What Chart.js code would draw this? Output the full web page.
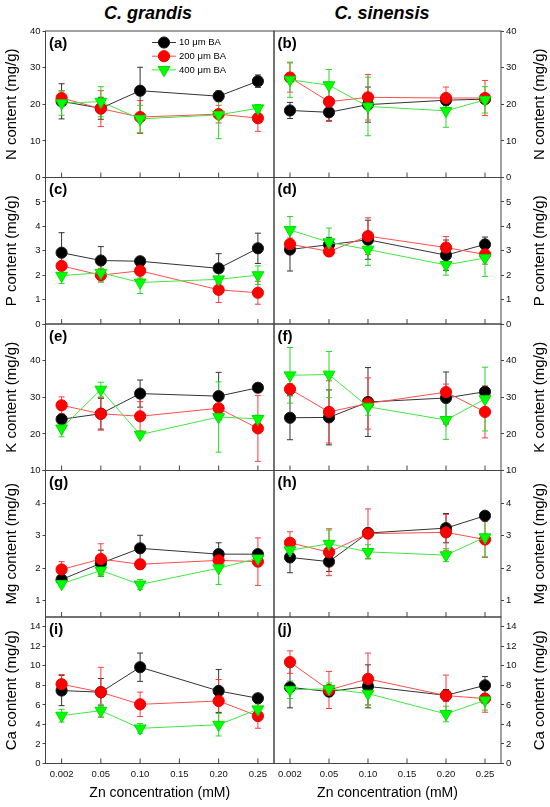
<!DOCTYPE html>
<html>
<head>
<meta charset="utf-8">
<title>N, P, K, Mg, Ca content vs Zn concentration</title>
<script src="https://cdn.jsdelivr.net/npm/chart.js@4.4.1/dist/chart.umd.min.js"></script>
<style>
  html, body { margin: 0; padding: 0; background: #fff; }
  #wrap { position: relative; width: 550px; height: 807px; overflow: hidden; }
  #wrap canvas { position: absolute; left: 0; top: 0; }
  .col-title { position: absolute; top: 3px; line-height: 21px; font: italic bold 18px 'Liberation Sans', Arial, sans-serif; color: #000; transform: translateX(-50%); white-space: nowrap; }
</style>
</head>
<body>
<div id="wrap">
  <div class="col-title" style="left:148px">C. grandis</div>
  <div class="col-title" style="left:382px">C. sinensis</div>
</div>
<script>
// ===== Data =====
const znLabels = ['0.002', '0.05', '0.10', '0.15', '0.20', '0.25'];
const znMeasured = ['0.002', '0.05', '0.10', '0.20', '0.25'];
const seriesNames = ['10 μm BA', '200 μm BA', '400 μm BA'];

// each: [10 µM, 200 µM, 400 µM] rows, one value per Zn level
const nGrandisMeans = [[20.8, 18.9, 23.7, 22.2, 26.3], [21.7, 18.8, 16.5, 17.3, 16.2], [20.3, 20.7, 16.0, 17.1, 18.9]];
const nGrandisErrors = [[4.8, 3.0, 6.4, 1.5, 1.7], [2.0, 4.9, 4.5, 2.4, 3.6], [3.3, 4.1, 3.7, 6.5, 1.0]];
const nSinensisMeans = [[18.3, 17.8, 19.9, 21.1, 21.4], [27.3, 20.7, 21.9, 21.7, 21.7], [26.7, 25.2, 19.4, 18.2, 21.2]];
const nSinensisErrors = [[2.2, 2.3, 4.8, 1.5, 1.0], [4.0, 5.4, 6.2, 3.0, 4.8], [4.8, 4.3, 8.0, 4.5, 3.6]];

const pGrandisMeans = [[2.92, 2.6, 2.57, 2.28, 3.1], [2.38, 2.0, 2.18, 1.4, 1.28], [1.98, 2.1, 1.7, 1.83, 2.0]];
const pGrandisErrors = [[0.82, 0.57, 0.1, 0.6, 0.62], [0.45, 0.28, 0.3, 0.52, 0.47], [0.32, 0.38, 0.45, 0.3, 0.38]];
const pSinensisMeans = [[3.05, 3.25, 3.45, 2.82, 3.26], [3.27, 2.97, 3.6, 3.13, 2.85], [3.85, 3.35, 3.05, 2.42, 2.7]];
const pSinensisErrors = [[0.88, 0.3, 0.8, 0.62, 0.3], [0.25, 0.2, 0.75, 0.45, 0.4], [0.55, 0.58, 0.65, 0.42, 0.75]];

const kGrandisMeans = [[24.0, 25.5, 31.0, 30.3, 32.6], [27.8, 25.5, 24.8, 27.0, 21.5], [21.5, 32.1, 19.8, 24.6, 24.1]];
const kGrandisErrors = [[1.2, 4.2, 3.7, 6.5, 1.0], [2.3, 4.5, 4.0, 2.0, 9.0], [2.3, 2.0, 0.7, 9.6, 1.0]];
const kSinensisMeans = [[24.4, 24.5, 28.7, 29.8, 31.5], [32.2, 26.0, 28.3, 31.4, 26.0], [36.0, 36.2, 27.4, 23.8, 29.5]];
const kSinensisErrors = [[6.0, 7.5, 9.4, 7.1, 1.0], [1.5, 8.5, 7.0, 2.2, 7.1], [7.6, 6.3, 2.3, 5.3, 8.7]];

const mgGrandisMeans = [[1.65, 2.15, 2.61, 2.43, 2.43], [1.96, 2.28, 2.12, 2.24, 2.2], [1.52, 1.93, 1.5, 2.0, 2.3]];
const mgGrandisErrors = [[0.1, 0.4, 0.4, 0.35, 0.12], [0.24, 0.47, 0.15, 0.2, 0.73], [0.1, 0.17, 0.15, 0.5, 0.25]];
const mgSinensisMeans = [[2.33, 2.2, 3.08, 3.23, 3.61], [2.78, 2.49, 3.06, 3.1, 2.88], [2.55, 2.75, 2.5, 2.4, 2.95]];
const mgSinensisErrors = [[0.47, 0.3, 0.15, 0.45, 0.1], [0.34, 0.72, 0.76, 0.55, 0.55], [0.15, 0.42, 0.22, 0.2, 0.6]];

const caGrandisMeans = [[7.47, 7.3, 9.86, 7.43, 6.68], [8.12, 7.3, 6.06, 6.4, 4.86], [4.9, 5.41, 3.6, 3.97, 5.55]];
const caGrandisErrors = [[1.55, 1.4, 1.45, 2.2, 0.3], [1.0, 2.55, 1.25, 2.2, 1.25], [0.65, 0.65, 0.5, 1.15, 1.05]];
const caSinensisMeans = [[7.8, 7.36, 7.9, 6.98, 8.0], [10.38, 7.53, 8.66, 6.95, 6.65], [7.55, 7.65, 7.16, 5.07, 6.47]];
const caSinensisErrors = [[2.1, 0.5, 2.2, 0.6, 0.9], [1.15, 1.9, 2.65, 2.1, 1.4], [0.9, 0.6, 1.2, 0.8, 1.0]];

// y axis ranges and tick values
const nRange = [0, 40], nTicks = [0, 10, 20, 30, 40];
const pRange = [0, 6], pTicks = [0, 1, 2, 3, 4, 5, 6];
const kRange = [10, 50], kTicks = [10, 20, 30, 40, 50];
const mgRange = [0.5, 5], mgTicks = [1, 2, 3, 4, 5];
const caRange = [0, 15], caTicks = [0, 2, 4, 6, 8, 10, 12, 14];

// ===== Layout / styles =====
const FONT = "'Liberation Sans', Arial, sans-serif";
const W = 550, H = 807;
const ROW_TOP = 31, ROW_H = 146.5;
const COL_X = [[45.5, 274], [274, 501]];

const seriesStyles = [
  { line: '#333333', fill: '#000000', edge: '#1a1a1a', bar: '#333333', shape: 'circle', r: 5.6, rot: 0, order: 2 },
  { line: '#ff4d4d', fill: '#ff0000', edge: '#f00000', bar: '#ff3b3b', shape: 'circle', r: 5.6, rot: 0, order: 1 },
  { line: '#3fe83f', fill: '#00ff00', edge: '#00dd00', bar: '#2ad82a', shape: 'triangle', r: 6.8, rot: 180, order: 0 }
];

const panels = [
  { tag: '(a)', row: 0, col: 0, means: nGrandisMeans, errs: nGrandisErrors, range: nRange, ticks: nTicks, label: 'N content (mg/g)', legend: true },
  { tag: '(b)', row: 0, col: 1, means: nSinensisMeans, errs: nSinensisErrors, range: nRange, ticks: nTicks, label: 'N content (mg/g)' },
  { tag: '(c)', row: 1, col: 0, means: pGrandisMeans, errs: pGrandisErrors, range: pRange, ticks: pTicks, label: 'P content (mg/g)' },
  { tag: '(d)', row: 1, col: 1, means: pSinensisMeans, errs: pSinensisErrors, range: pRange, ticks: pTicks, label: 'P content (mg/g)' },
  { tag: '(e)', row: 2, col: 0, means: kGrandisMeans, errs: kGrandisErrors, range: kRange, ticks: kTicks, label: 'K content (mg/g)' },
  { tag: '(f)', row: 2, col: 1, means: kSinensisMeans, errs: kSinensisErrors, range: kRange, ticks: kTicks, label: 'K content (mg/g)' },
  { tag: '(g)', row: 3, col: 0, means: mgGrandisMeans, errs: mgGrandisErrors, range: mgRange, ticks: mgTicks, label: 'Mg content (mg/g)' },
  { tag: '(h)', row: 3, col: 1, means: mgSinensisMeans, errs: mgSinensisErrors, range: mgRange, ticks: mgTicks, label: 'Mg content (mg/g)' },
  { tag: '(i)', row: 4, col: 0, means: caGrandisMeans, errs: caGrandisErrors, range: caRange, ticks: caTicks, label: 'Ca content (mg/g)' },
  { tag: '(j)', row: 4, col: 1, means: caSinensisMeans, errs: caSinensisErrors, range: caRange, ticks: caTicks, label: 'Ca content (mg/g)' }
];

// error bars under the points, frame + inner x ticks + labels on top
const decorPlugin = {
  id: 'decor',
  beforeDatasetsDraw(chart) {
    const ctx = chart.ctx, ys = chart.scales.y;
    chart.data.datasets.forEach((ds, di) => {
      const meta = chart.getDatasetMeta(di);
      ctx.save();
      ctx.strokeStyle = ds.errorColor;
      ctx.lineWidth = 1;
      meta.data.forEach((pt, i) => {
        const v = ds.data[i].y, e = ds.errors[i];
        const t = ys.getPixelForValue(v + e), b = ys.getPixelForValue(v - e);
        ctx.beginPath();
        ctx.moveTo(pt.x, t); ctx.lineTo(pt.x, b);
        ctx.moveTo(pt.x - 3, t); ctx.lineTo(pt.x + 3, t);
        ctx.moveTo(pt.x - 3, b); ctx.lineTo(pt.x + 3, b);
        ctx.stroke();
      });
      ctx.restore();
    });
  },
  afterDraw(chart, args, opts) {
    const ctx = chart.ctx, a = chart.chartArea, xs = chart.scales.x;
    ctx.save();
    // frame
    ctx.strokeStyle = '#444';
    ctx.lineWidth = 1;
    ctx.strokeRect(a.left, a.top, a.right - a.left, a.bottom - a.top);
    // x ticks pointing inward
    ctx.beginPath();
    znLabels.forEach((_, i) => {
      const x = xs.getPixelForValue(i);
      ctx.moveTo(x, a.bottom); ctx.lineTo(x, a.bottom - 5);
    });
    ctx.stroke();
    // panel letter
    ctx.fillStyle = '#000';
    ctx.font = 'bold 15px ' + FONT;
    ctx.textAlign = 'left';
    ctx.textBaseline = 'middle';
    ctx.fillText(opts.tag, a.left + 3.5, a.top + 12.5);
    // right-side axis title reads bottom-to-top like the left one
    if (opts.rightTitle) {
      ctx.save();
      ctx.translate(540, (a.top + a.bottom) / 2);
      ctx.rotate(-Math.PI / 2);
      ctx.textAlign = 'center';
      ctx.font = '15px ' + FONT;
      ctx.fillText(opts.rightTitle, 0, 0);
      ctx.restore();
    }
    // legend inside panel (a)
    if (opts.legend) {
      ctx.font = '9.5px ' + FONT;
      seriesNames.forEach((name, i) => {
        const st = seriesStyles[i];
        const y = a.top + 11.5 + i * 13.7;
        ctx.strokeStyle = st.line;
        ctx.beginPath(); ctx.moveTo(152, y); ctx.lineTo(176, y); ctx.stroke();
        ctx.fillStyle = st.fill;
        ctx.strokeStyle = st.edge;
        Chart.helpers.drawPoint(ctx, { pointStyle: st.shape, radius: st.r, rotation: st.rot, borderWidth: 1 }, 164, y);
        ctx.fillStyle = '#000';
        ctx.fillText(name, 179, y);
      });
    }
    ctx.restore();
  }
};

const wrap = document.getElementById('wrap');

panels.forEach(p => {
  const canvas = document.createElement('canvas');
  canvas.width = W; canvas.height = H;
  canvas.style.width = W + 'px'; canvas.style.height = H + 'px';
  wrap.appendChild(canvas);

  const isBottom = p.row === 4;
  const top = ROW_TOP + p.row * ROW_H;
  const bottom = top + ROW_H;
  const [left, right] = COL_X[p.col];
  const yWidth = p.col === 0 ? left : W - right;
  const xHeight = isBottom ? H - bottom : 0;
  const [ymin, ymax] = p.range;

  const datasets = seriesNames.map((name, si) => {
    const st = seriesStyles[si];
    return {
      label: name,
      data: znMeasured.map((z, i) => ({ x: znLabels.indexOf(z), y: p.means[si][i] })),
      errors: p.errs[si],
      errorColor: st.bar,
      order: st.order,
      borderColor: st.line,
      borderWidth: 1,
      backgroundColor: st.fill,
      pointBackgroundColor: st.fill,
      pointBorderColor: st.edge,
      pointBorderWidth: 1,
      pointStyle: st.shape,
      pointRotation: st.rot,
      pointRadius: st.r,
      tension: 0,
      clip: false
    };
  });

  new Chart(canvas, {
    type: 'line',
    data: { datasets },
    options: {
      responsive: false,
      animation: false,
      events: [],
      layout: {
        padding: {
          left: p.col === 0 ? 0 : left,
          right: p.col === 0 ? W - right : 0,
          top: top,
          bottom: isBottom ? 0 : H - bottom
        }
      },
      plugins: {
        legend: { display: false },
        tooltip: { enabled: false },
        decor: { tag: p.tag, legend: !!p.legend, rightTitle: p.col === 1 ? p.label : null }
      },
      scales: {
        x: {
          type: 'linear',
          min: -0.41,
          max: 5.41,
          afterBuildTicks: s => { s.ticks = znLabels.map((_, i) => ({ value: i })); },
          afterFit: s => { s.height = xHeight; },
          grid: { display: false, drawTicks: false },
          border: { display: false },
          ticks: {
            display: isBottom,
            padding: 5,
            maxRotation: 0,
            autoSkip: false,
            color: '#111',
            font: { family: FONT, size: 9.5 },
            callback: v => znLabels[v]
          },
          title: {
            display: isBottom,
            text: 'Zn concentration (mM)',
            color: '#000',
            font: { family: FONT, size: 14 },
            padding: { top: 0, bottom: 5 }
          }
        },
        y: {
          type: 'linear',
          position: p.col === 0 ? 'left' : 'right',
          min: ymin,
          max: ymax,
          afterBuildTicks: s => { s.ticks = p.ticks.map(v => ({ value: v })); },
          afterFit: s => { s.width = yWidth; },
          grid: { drawOnChartArea: false, drawTicks: true, tickLength: 3, color: '#444' },
          border: { display: false },
          ticks: {
            padding: 2,
            color: '#111',
            font: { family: FONT, size: 9.5 },
            callback: v => (p.row > 0 && v === ymax) ? '' : String(v)
          },
          title: {
            display: p.col === 0,
            text: p.label,
            color: '#000',
            font: { family: FONT, size: 15 },
            padding: { top: 3, bottom: 0 }
          }
        }
      }
    },
    plugins: [decorPlugin]
  });
});
</script>
</body>
</html>
